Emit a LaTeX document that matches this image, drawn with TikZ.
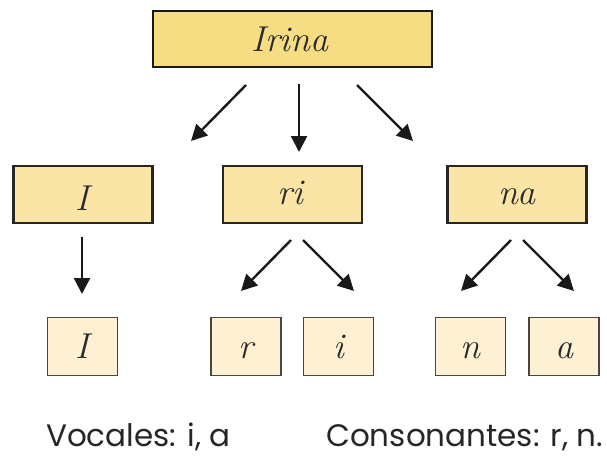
\documentclass[tikz,border=0pt]{standalone}
\usepackage{fontspec}
\setsansfont{Poppins}
\usetikzlibrary{arrows.meta}
\definecolor{topfill}{HTML}{F6DC82}
\definecolor{midfill}{HTML}{FBE5A6}
\definecolor{lowfill}{HTML}{FDF0D3}
\definecolor{lowline}{HTML}{4A4540}
\definecolor{ink}{HTML}{2A2A2A}
\newcommand{\cur}[1]{{\rmfamily\itshape #1}}
\tikzset{
  topbox/.style={draw=black!90, line width=2.6pt, fill=topfill, minimum width=279pt, minimum height=56pt, inner sep=0pt},
  midbox/.style={draw=black!85, line width=2.2pt, fill=midfill, minimum width=139pt, minimum height=57pt, inner sep=0pt},
  lowbox/.style={draw=lowline, line width=1.5pt, fill=lowfill, minimum width=70pt, minimum height=58pt, inner sep=0pt},
  lbl/.style={font=\fontsize{36}{38}\selectfont, text=ink, inner sep=0pt, anchor=base},
  arr/.style={line width=2.4pt, draw=black!90, -{Triangle[length=16pt,width=16pt]}},
  caption/.style={font=\sffamily\fontsize{31}{34}\selectfont, text=black!85, inner sep=0pt, anchor=base west}
}
\begin{document}
\begin{tikzpicture}[x=1pt,y=-1pt]
\useasboundingbox (0,0) rectangle (607,456);
% boxes
\node[topbox] (top) at (292.5,39) {};
\node[midbox] (m1) at (83,194.5) {};
\node[midbox] (m2) at (292.5,194.5) {};
\node[midbox] (m3) at (517,194.5) {};
\node[lowbox] (b1) at (82.5,346.5) {};
\node[lowbox] (b2) at (246,346.5) {};
\node[lowbox] (b3) at (338.5,346.5) {};
\node[lowbox] (b4) at (470.5,346.5) {};
\node[lowbox] (b5) at (564,346.5) {};
% labels
\node[lbl] (ltop) at (290,51) {\cur{Irina}};
\node[lbl] (lm1) at (82,210) {\cur{I}};
\node[lbl] (lm2) at (290,204) {\cur{ri}};
\node[lbl] (lm3) at (517,204) {\cur{na}};
\node[lbl] (lb1) at (82.5,358) {\cur{I}};
\node[lbl] (lb2) at (246,358) {\cur{r}};
\node[lbl] (lb3) at (338.5,358) {\cur{i}};
\node[lbl] (lb4) at (470.5,358) {\cur{n}};
\node[lbl] (lb5) at (564,358) {\cur{a}};
% arrow end points
\coordinate (a1s) at (246,85);  \coordinate (a1e) at (191,141);
\coordinate (a2s) at (299,84);  \coordinate (a2e) at (299,152);
\coordinate (a3s) at (357,85);  \coordinate (a3e) at (413,141);
\coordinate (a4s) at (82,237);  \coordinate (a4e) at (82,294);
\coordinate (a5s) at (291,240); \coordinate (a5e) at (241,291);
\coordinate (a6s) at (303,240); \coordinate (a6e) at (354,291);
\coordinate (a7s) at (511,240); \coordinate (a7e) at (461,291);
\coordinate (a8s) at (523,240); \coordinate (a8e) at (574,291);
\foreach \i in {1,...,8} \draw[arr] (a\i s) -- (a\i e);
% captions
\node[caption] (voc) at (46,446) {Vocales: i, a};
\node[caption] (con) at (326,446) {Consonantes: r, n.};
\end{tikzpicture}
\end{document}
